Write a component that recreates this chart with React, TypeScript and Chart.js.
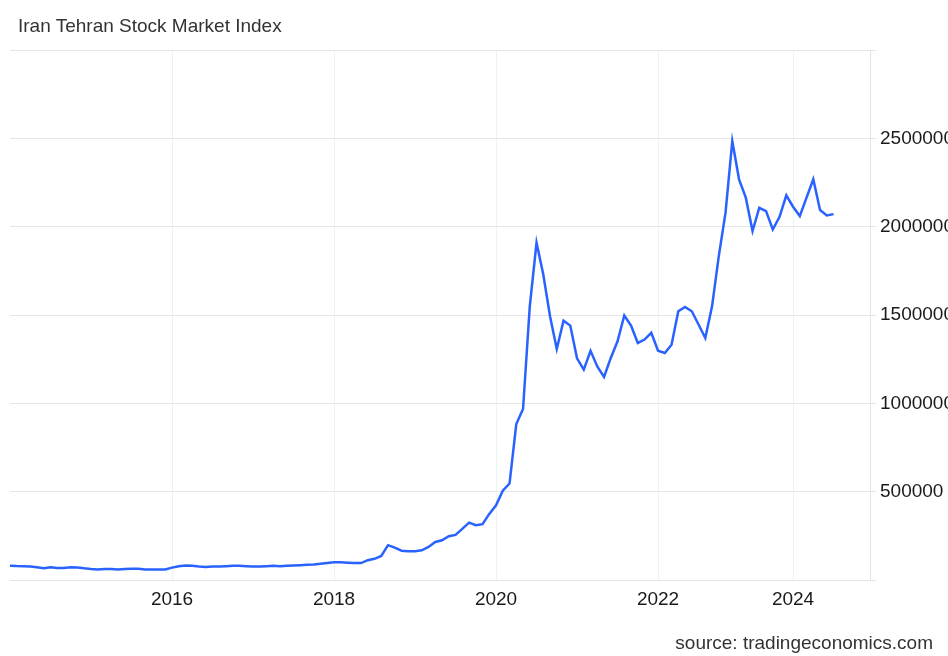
import React, { useEffect, useRef } from 'react';
import { Chart, registerables } from 'chart.js';

Chart.register(...registerables);

const chartTitle = 'Iran Tehran Stock Market Index';
const sourceText = 'source: tradingeconomics.com';

// monthly index values (reading order, one per observation)
const indexValues = [
  81000, 79000, 78000, 76000, 72000, 66000, 72000, 68000, 68000, 72000, 71000, 66000,
  62000, 60000, 62000, 62000, 60000, 62000, 64000, 64000, 60000, 60000, 60000, 60000,
  70000, 78000, 82000, 80000, 76000, 73000, 76000, 76000, 78000, 80000, 80000, 78000,
  76000, 76000, 78000, 80000, 78000, 80000, 82000, 84000, 86000, 88000, 92000, 96000,
  100000, 100000, 98000, 96000, 96000, 112000, 120000, 136000,
  197000, 183000, 166000, 163000, 163000, 168000, 187000, 215000, 225000, 248000,
  255000, 289000, 325000, 310000, 316000, 374000, 423000, 506000, 546000, 883000, 968000,
  1549000, 1909000, 1729000, 1493000, 1308000, 1468000, 1440000, 1255000, 1191000, 1297000,
  1209000, 1149000, 1257000, 1351000, 1497000, 1440000, 1342000, 1361000, 1399000, 1298000,
  1285000, 1332000, 1521000, 1546000, 1521000, 1446000, 1370000, 1549000, 1833000, 2079000,
  2485000, 2268000, 2164000, 1975000, 2107000, 2088000, 1984000, 2056000, 2177000, 2113000,
  2060000, 2164000, 2268000, 2094000, 2064000, 2071000,
];

const xTickIndex = [24, 48, 72, 96, 116];
const xTickLabels = ['2016', '2018', '2020', '2022', '2024'];
const xAxisMax = 127.4;

const yGridValues = [0, 500000, 1000000, 1500000, 2000000, 2500000, 3000000];
const yLabelValues = [500000, 1000000, 1500000, 2000000, 2500000];

const FONT = '"Liberation Sans", Arial, Helvetica, sans-serif';

export default function App() {
  const canvasRef = useRef<HTMLCanvasElement | null>(null);

  useEffect(() => {
    if (!canvasRef.current) return;
    const chart = new Chart(canvasRef.current, {
      type: 'line',
      data: {
        datasets: [
          {
            data: indexValues.map((v, i) => ({ x: i, y: v })),
            borderColor: '#2962ff',
            borderWidth: 2.5,
            pointRadius: 0,
            tension: 0,
            fill: false,
          },
        ],
      },
      options: {
        responsive: false,
        animation: false,
        devicePixelRatio: 1,
        layout: { padding: { left: 10, top: 50, right: 0, bottom: 0 } },
        plugins: {
          legend: { display: false },
          tooltip: { enabled: false },
          title: { display: false },
        },
        scales: {
          x: {
            type: 'linear',
            min: 0,
            max: xAxisMax,
            afterBuildTicks: (scale: any) => {
              scale.ticks = xTickIndex.map((v) => ({ value: v }));
            },
            afterFit: (scale: any) => {
              scale.height = 76;
            },
            ticks: {
              autoSkip: false,
              maxRotation: 0,
              padding: 8,
              color: '#1a1a1a',
              font: { family: FONT, size: 19 },
              callback: (value: any) => {
                const k = xTickIndex.indexOf(Number(value));
                return k >= 0 ? xTickLabels[k] : '';
              },
            },
            grid: { color: '#edf2f7', drawTicks: false, lineWidth: 1 },
            border: { color: '#e3e3e3' },
          },
          y: {
            type: 'linear',
            position: 'right',
            min: 0,
            max: 3000000,
            afterBuildTicks: (scale: any) => {
              scale.ticks = yGridValues.map((v) => ({ value: v }));
            },
            afterFit: (scale: any) => {
              scale.width = 78;
            },
            ticks: {
              padding: 4,
              color: '#1a1a1a',
              font: { family: FONT, size: 19 },
              callback: (value: any) =>
                yLabelValues.includes(Number(value)) ? String(value) : '',
            },
            grid: { color: '#e6e6e6', tickLength: 6, lineWidth: 1 },
            border: { color: '#e3e3e3' },
          },
        },
      },
    });
    return () => chart.destroy();
  }, []);

  return (
    <div
      style={{
        position: 'fixed',
        left: 0,
        top: 0,
        width: 948,
        height: 656,
        background: '#ffffff',
        overflow: 'hidden',
        fontFamily: FONT,
      }}
    >
      <canvas
        ref={canvasRef}
        width={948}
        height={656}
        style={{ display: 'block', width: 948, height: 656 }}
      />
      <div
        style={{
          position: 'absolute',
          left: 18,
          top: 16,
          fontSize: 19,
          lineHeight: '19px',
          color: '#333333',
          whiteSpace: 'nowrap',
        }}
      >
        {chartTitle}
      </div>
      <div
        style={{
          position: 'absolute',
          right: 15,
          top: 633,
          fontSize: 19,
          lineHeight: '19px',
          color: '#333333',
          whiteSpace: 'nowrap',
        }}
      >
        {sourceText}
      </div>
    </div>
  );
}
